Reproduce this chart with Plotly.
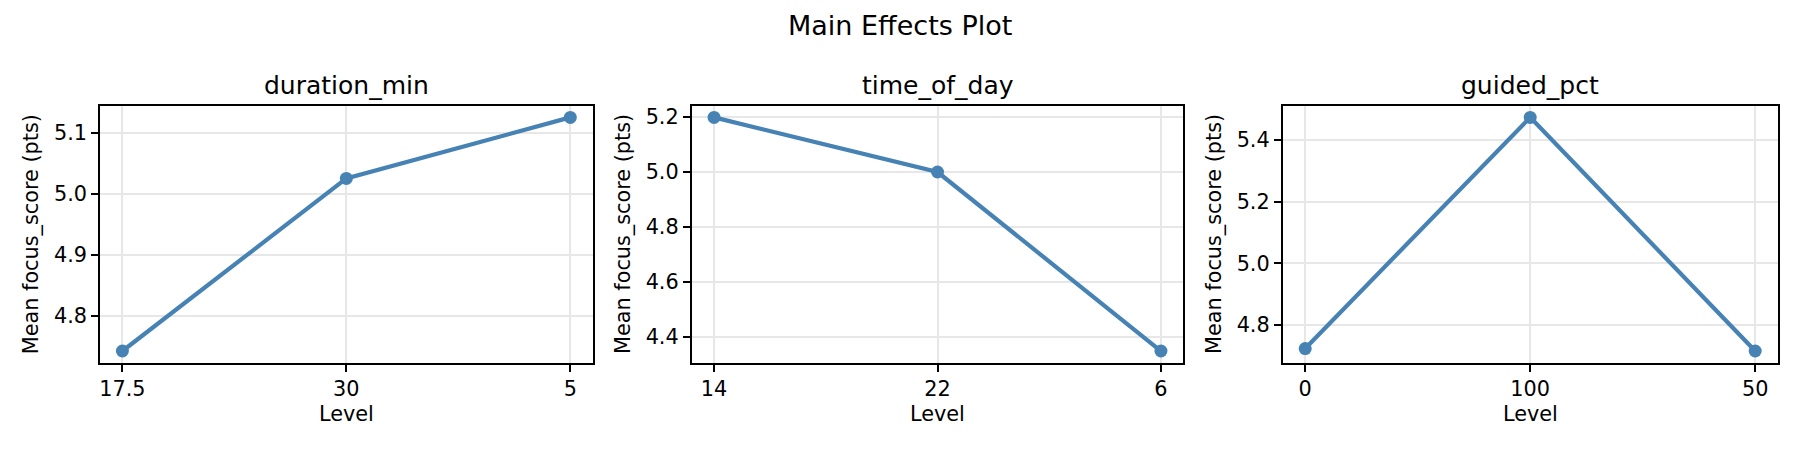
import plotly.graph_objects as go

# ---- data ----
factor_names = ["duration_min", "time_of_day", "guided_pct"]
duration_levels = ["17.5", "30", "5"]
duration_means = [4.742, 5.025, 5.125]
time_levels = ["14", "22", "6"]
time_means = [5.199, 5.000, 4.348]
guided_levels = ["0", "100", "50"]
guided_means = [4.723, 5.474, 4.715]
y_dticks = [0.1, 0.2, 0.2]

# page body has an 8px margin; compensate so that window pixels match
OFF = 8
W, H = 1800 - 2 * OFF, 450 - 2 * OFF
FONT = "DejaVu Sans"
LINE_COLOR = "#4682B4"
GRID = "#e7e7e7"


def px_x(x):
    return (x - OFF) / W


def px_y(y):
    return 1 - (y - OFF) / H


panels_px = [(100, 592.7), (691.7, 1183.3), (1282.7, 1777.7)]
top_px, bot_px = 105.7, 362.7
y_dom = [px_y(bot_px), px_y(top_px)]

series = [
    (duration_levels, duration_means),
    (time_levels, time_means),
    (guided_levels, guided_means),
]

fig = go.Figure()
annotations = []

for i, ((levels, means), name, (x0, x1), dt) in enumerate(
        zip(series, factor_names, panels_px, y_dticks)):
    ax = "" if i == 0 else str(i + 1)
    fig.add_trace(go.Scatter(
        x=levels, y=means, mode="lines+markers",
        line=dict(color=LINE_COLOR, width=4.2),
        marker=dict(color=LINE_COLOR, size=13),
        xaxis="x" + ax, yaxis="y" + ax, showlegend=False,
    ))
    lo, hi = min(means), max(means)
    pad = 0.05 * (hi - lo)
    axis_common = dict(
        showline=True, linecolor="black", linewidth=1.67, mirror=True,
        ticks="outside", ticklen=7, tickwidth=1.67, tickcolor="black",
        showgrid=True, gridcolor=GRID, gridwidth=1.67, zeroline=False,
        tickfont=dict(family=FONT, size=20.8, color="black"),
    )
    fig.layout["xaxis" + ax] = dict(
        axis_common, domain=[px_x(x0), px_x(x1)], anchor="y" + ax,
        type="category", range=[-0.1, len(levels) - 0.9],
    )
    fig.layout["yaxis" + ax] = dict(
        axis_common, domain=y_dom, anchor="x" + ax,
        range=[lo - pad, hi + pad], dtick=dt, tickformat=".1f",
    )
    cx = px_x((x0 + x1) / 2)
    annotations.append(dict(
        text=name, x=cx, y=px_y(85), xref="paper", yref="paper",
        xanchor="center", yanchor="middle", showarrow=False,
        font=dict(family=FONT, size=25, color="black")))
    annotations.append(dict(
        text="Level", x=cx, y=px_y(414), xref="paper", yref="paper",
        xanchor="center", yanchor="middle", showarrow=False,
        font=dict(family=FONT, size=20.8, color="black")))
    annotations.append(dict(
        text="Mean focus_score (pts)", x=px_x(x0 - 69),
        y=(y_dom[0] + y_dom[1]) / 2, xref="paper", yref="paper",
        xanchor="center", yanchor="middle", textangle=-90, showarrow=False,
        font=dict(family=FONT, size=20.8, color="black")))

annotations.append(dict(
    text="Main Effects Plot", x=px_x(900), y=1, xref="paper",
    yref="paper", xanchor="center", yanchor="top", showarrow=False,
    font=dict(family=FONT, size=27, color="black")))

fig.update_layout(
    width=W, height=H, margin=dict(l=0, r=0, t=0, b=0),
    paper_bgcolor="white", plot_bgcolor="white",
    font=dict(family=FONT, color="black"),
    annotations=annotations,
)

fig.write_html("out.html")
